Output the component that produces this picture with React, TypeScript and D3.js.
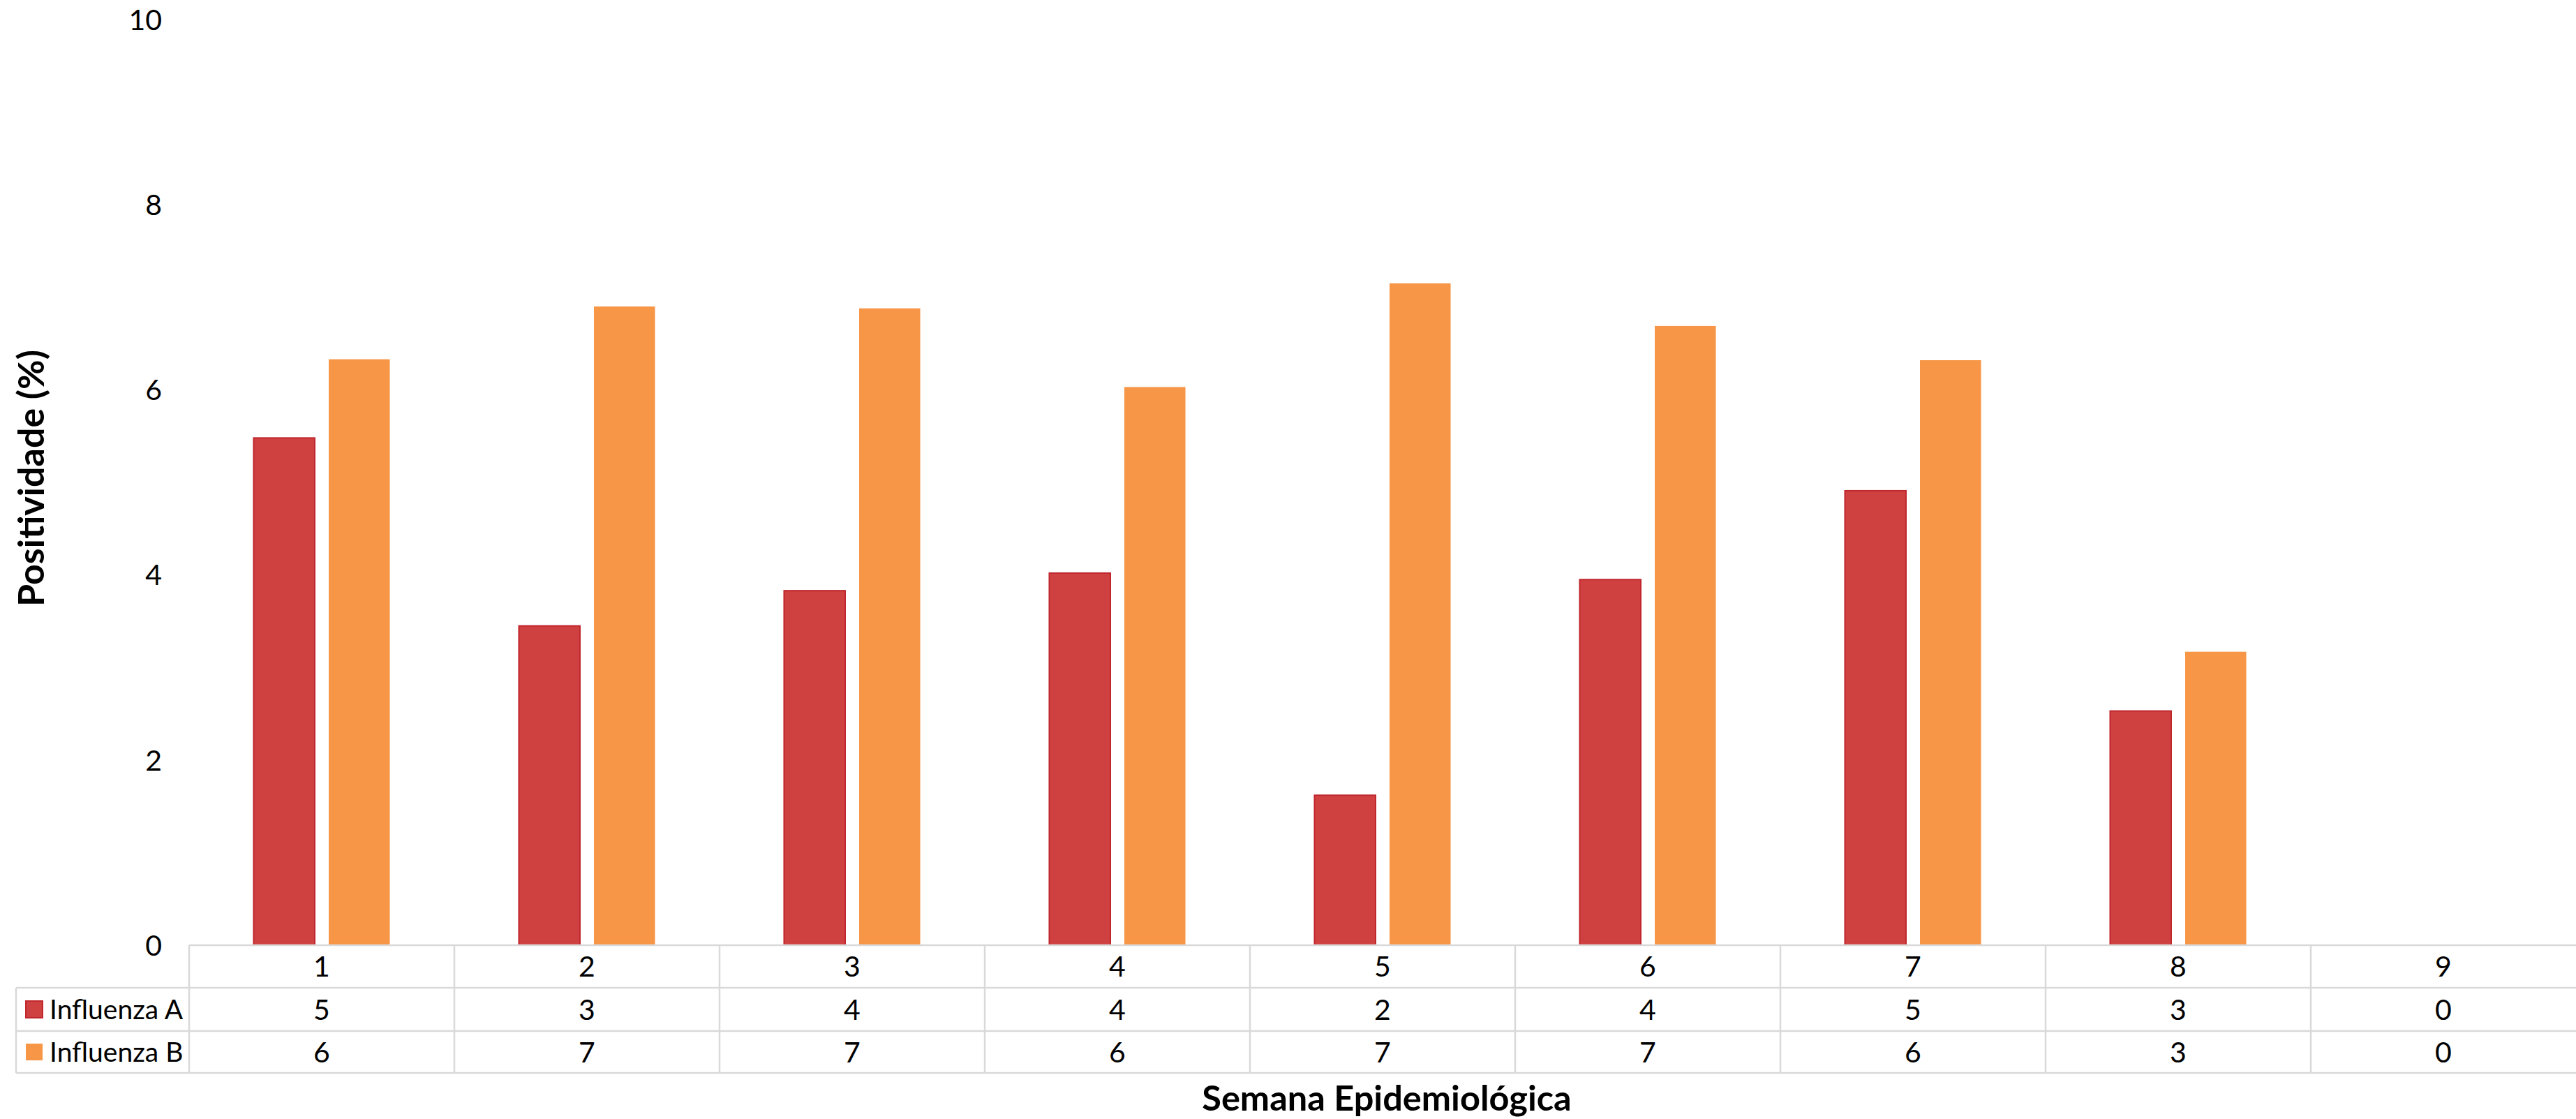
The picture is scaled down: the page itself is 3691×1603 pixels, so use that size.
import React from "react";
import * as d3 from "d3";

const weeks = ["1", "2", "3", "4", "5", "6", "7", "8", "9"];
const seriesNames = ["Influenza A", "Influenza B"];
const influenzaA = [5.48, 3.45, 3.83, 4.02, 1.62, 3.95, 4.91, 2.53, 0];
const influenzaB = [6.33, 6.9, 6.88, 6.03, 7.15, 6.69, 6.32, 3.17, 0];
const yTicks = [0, 2, 4, 6, 8, 10];
const fills = ["#CF4141", "#F79646"];
const strokes = ["#C0272D", "#F79646"];

const W = 3691;
const H = 1603;
const FONT = "Lato, 'Open Sans', sans-serif";

export default function App() {
  const plotLeft = 271;
  const plotRight = 3691;
  const yTop = 28;
  const yBase = 1354;
  const rowTop = [1354, 1415, 1477, 1537];
  const legendLeft = 23;

  const x = d3.scaleBand<string>().domain(weeks).range([plotLeft, plotRight]).paddingInner(0).paddingOuter(0);
  const xs = d3
    .scaleBand<string>()
    .domain(seriesNames)
    .range([0, x.bandwidth()])
    .paddingInner(0.186)
    .paddingOuter(0.86);
  const y = d3.scaleLinear().domain([0, 10]).range([yBase, yTop]);
  const fmt = d3.format(".0f");
  const data = [influenzaA, influenzaB];
  const lineColor = "#D9D9D9";

  return (
    <svg
      width={W}
      height={H}
      style={{ position: "absolute", left: 0, top: 0, background: "#fff" }}
      fontFamily={FONT}
    >
      <rect x={0} y={0} width={W} height={H} fill="#fff" />
      {yTicks.map((t) => (
        <text key={t} x={232} y={y(t)} dy="0.36em" textAnchor="end" fontSize={41} fill="#000">
          {t}
        </text>
      ))}
      {data.map((vals, si) =>
        vals.map((v, i) => {
          const bx = (x(weeks[i]) as number) + (xs(seriesNames[si]) as number);
          const h = yBase - y(v);
          if (h <= 0) return null;
          return (
            <rect
              key={`${si}-${i}`}
              x={bx}
              y={y(v)}
              width={xs.bandwidth()}
              height={h}
              fill={fills[si]}
              stroke={strokes[si]}
              strokeWidth={si === 0 ? 2 : 0}
            />
          );
        })
      )}
      <line x1={plotLeft} x2={plotRight} y1={rowTop[0]} y2={rowTop[0]} stroke={lineColor} strokeWidth={2.5} />
      {[1, 2, 3].map((r) => (
        <line key={r} x1={legendLeft} x2={plotRight} y1={rowTop[r]} y2={rowTop[r]} stroke={lineColor} strokeWidth={2.5} />
      ))}
      <line x1={legendLeft} x2={legendLeft} y1={rowTop[1]} y2={rowTop[3]} stroke={lineColor} strokeWidth={2.5} />
      {weeks.map((w) => (
        <line
          key={w}
          x1={x(w) as number}
          x2={x(w) as number}
          y1={rowTop[0]}
          y2={rowTop[3]}
          stroke={lineColor}
          strokeWidth={2.5}
        />
      ))}
      {weeks.map((w) => (
        <text
          key={w}
          x={(x(w) as number) + x.bandwidth() / 2}
          y={(rowTop[0] + rowTop[1]) / 2}
          dy="0.36em"
          textAnchor="middle"
          fontSize={41}
        >
          {w}
        </text>
      ))}
      {data.map((vals, si) => {
        const cy = (rowTop[si + 1] + rowTop[si + 2]) / 2;
        return (
          <g key={si}>
            <rect
              x={37}
              y={cy - 12}
              width={24}
              height={24}
              fill={fills[si]}
              stroke={strokes[si]}
              strokeWidth={si === 0 ? 2 : 0}
            />
            <text x={71} y={cy} dy="0.36em" fontSize={39}>
              {seriesNames[si]}
            </text>
            {vals.map((v, i) => (
              <text
                key={i}
                x={(x(weeks[i]) as number) + x.bandwidth() / 2}
                y={cy}
                dy="0.36em"
                textAnchor="middle"
                fontSize={41}
              >
                {fmt(v)}
              </text>
            ))}
          </g>
        );
      })}
      <text
        transform={`translate(44, ${(yTop + yBase) / 2 - 6}) rotate(-90)`}
        textAnchor="middle"
        dy="0.36em"
        fontSize={52}
        fontWeight="bold"
      >
        Positividade (%)
      </text>
      <text x={(plotLeft + plotRight) / 2 + 6} y={1573} dy="0.36em" textAnchor="middle" fontSize={50.5} fontWeight="bold">
        Semana Epidemiológica
      </text>
    </svg>
  );
}
